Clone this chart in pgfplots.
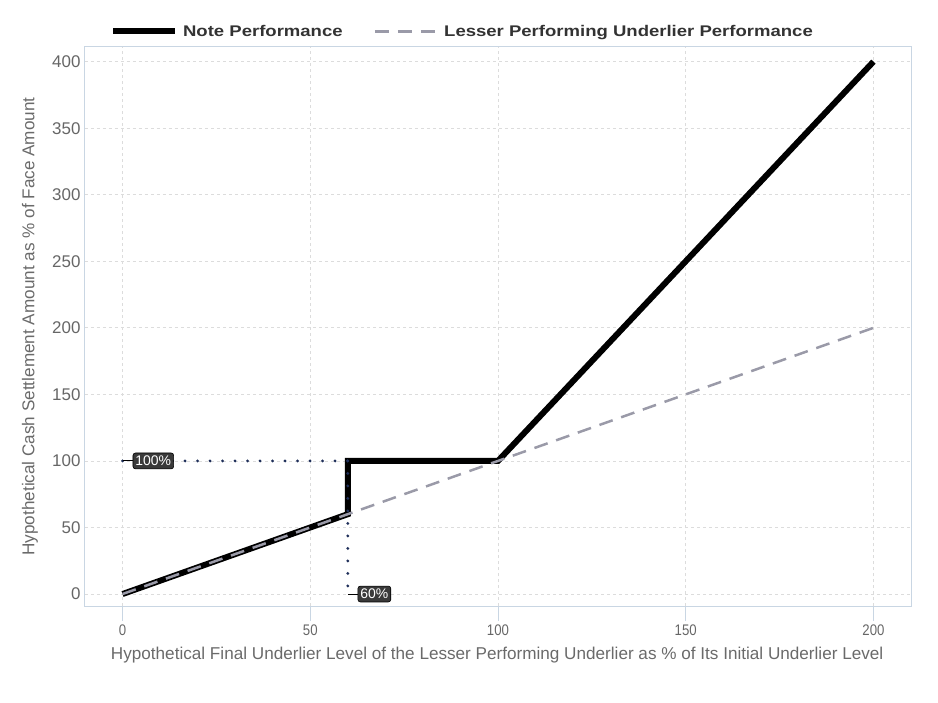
\documentclass[border=0pt]{standalone}
\usepackage{fontspec}
\setmainfont{Liberation Sans}
\newfontfamily\narrowfont[FakeStretch=0.86]{Liberation Sans}
\newfontfamily\wideboldfont[FakeStretch=1.2]{Liberation Sans Bold}
\usepackage{pgfplots}
\pgfplotsset{compat=1.18}
\definecolor{gridgray}{HTML}{DCDCDC}
\definecolor{boxblue}{HTML}{C9D6E3}
\definecolor{ticktext}{HTML}{666666}
\definecolor{labelgray}{HTML}{6A6A6A}
\definecolor{legendtext}{HTML}{333333}
\definecolor{dashgray}{HTML}{9A9AA8}
\definecolor{dotnavy}{HTML}{1F2F5A}
\definecolor{labelbg}{HTML}{3A3A3A}
\begin{document}
\begin{tikzpicture}
\begin{axis}[
  scale only axis, width=826bp, height=559bp,
  xmin=-10, xmax=210, ymin=-9, ymax=411,
  xtick={0,50,...,200}, ytick={0,50,...,400},
  grid=major,
  major grid style={color=gridgray, line width=0.7bp, dash pattern=on 3bp off 3bp},
  axis line style={color=boxblue, line width=1bp},
  /pgf/number format/assume math mode=true,
  tick align=outside,
  xtick pos=bottom, ytick pos=left,
  major tick length=15bp,
  xtick style={color=boxblue, line width=1bp},
  ytick style={draw=none},
  x tick label style={font=\narrowfont\fontsize{15.4}{15.4}\selectfont, text=ticktext},
  y tick label style={font=\fontsize{17}{17}\selectfont, text=ticktext, xshift=14bp},
  xlabel={Hypothetical Final Underlier Level of the Lesser Performing Underlier as \% of Its Initial Underlier Level},
  ylabel={Hypothetical Cash Settlement Amount as \% of Face Amount},
  xlabel style={font=\fontsize{17.2}{17.2}\selectfont, text=labelgray, at={(axis description cs:0.499,0)}, anchor=center, yshift=-49bp},
  ylabel style={font=\fontsize{17.2}{17.2}\selectfont, text=labelgray, at={(axis description cs:0,0.5)}, anchor=center, yshift=55bp},
  legend style={at={(axis description cs:0.457,1)}, anchor=south, yshift=5bp, draw=none, fill=none,
    font=\wideboldfont\fontsize{15.5}{15.5}\selectfont, text=legendtext,
    /tikz/every even column/.append style={column sep=29bp}},
  legend columns=2,
  legend image code/.code={\draw[#1] (0bp,0bp) -- (62bp,0bp);},
]
\coordinate (O) at (rel axis cs:0,0);
\addplot[black, line width=6bp, line join=miter] coordinates {(0,0) (60,60) (60,100) (100,100) (200,400)};
\addlegendentry{\hspace{3bp}Note Performance}
\addplot[dashgray, line width=2.5bp, dash pattern=on 14bp off 9bp] coordinates {(0,0) (200,200)};
\addlegendentry{\hspace{4bp}Lesser Performing Underlier Performance}
\addplot[forget plot, dotnavy, line width=3.2bp, line cap=round, dash pattern=on 0bp off 12.5bp] coordinates {(0,100) (60,100)};
\addplot[forget plot, dotnavy, line width=3.2bp, line cap=round, dash pattern=on 0bp off 12.5bp] coordinates {(60,100) (60,0)};
\addplot[forget plot, black, line width=1bp] coordinates {(0,100) (3,100)};
\addplot[forget plot, black, line width=1bp] coordinates {(60,0) (63,0)};
\node[fill=labelbg, draw=black, line width=0.6bp, rounded corners=2.5bp, text=white, font=\fontsize{14}{14}\selectfont, anchor=west, inner xsep=2.5bp, inner ysep=3bp] at (axis cs:2.7,100) {100\%};
\node[fill=labelbg, draw=black, line width=0.6bp, rounded corners=2.5bp, text=white, font=\fontsize{14}{14}\selectfont, anchor=west, inner xsep=2.5bp, inner ysep=3bp] at (axis cs:62.6,0) {60\%};
\end{axis}
\pgfresetboundingbox
\path[use as bounding box] ([shift={(-85bp,-97bp)}]O) rectangle ([shift={(853bp,606bp)}]O);
\end{tikzpicture}
\end{document}
